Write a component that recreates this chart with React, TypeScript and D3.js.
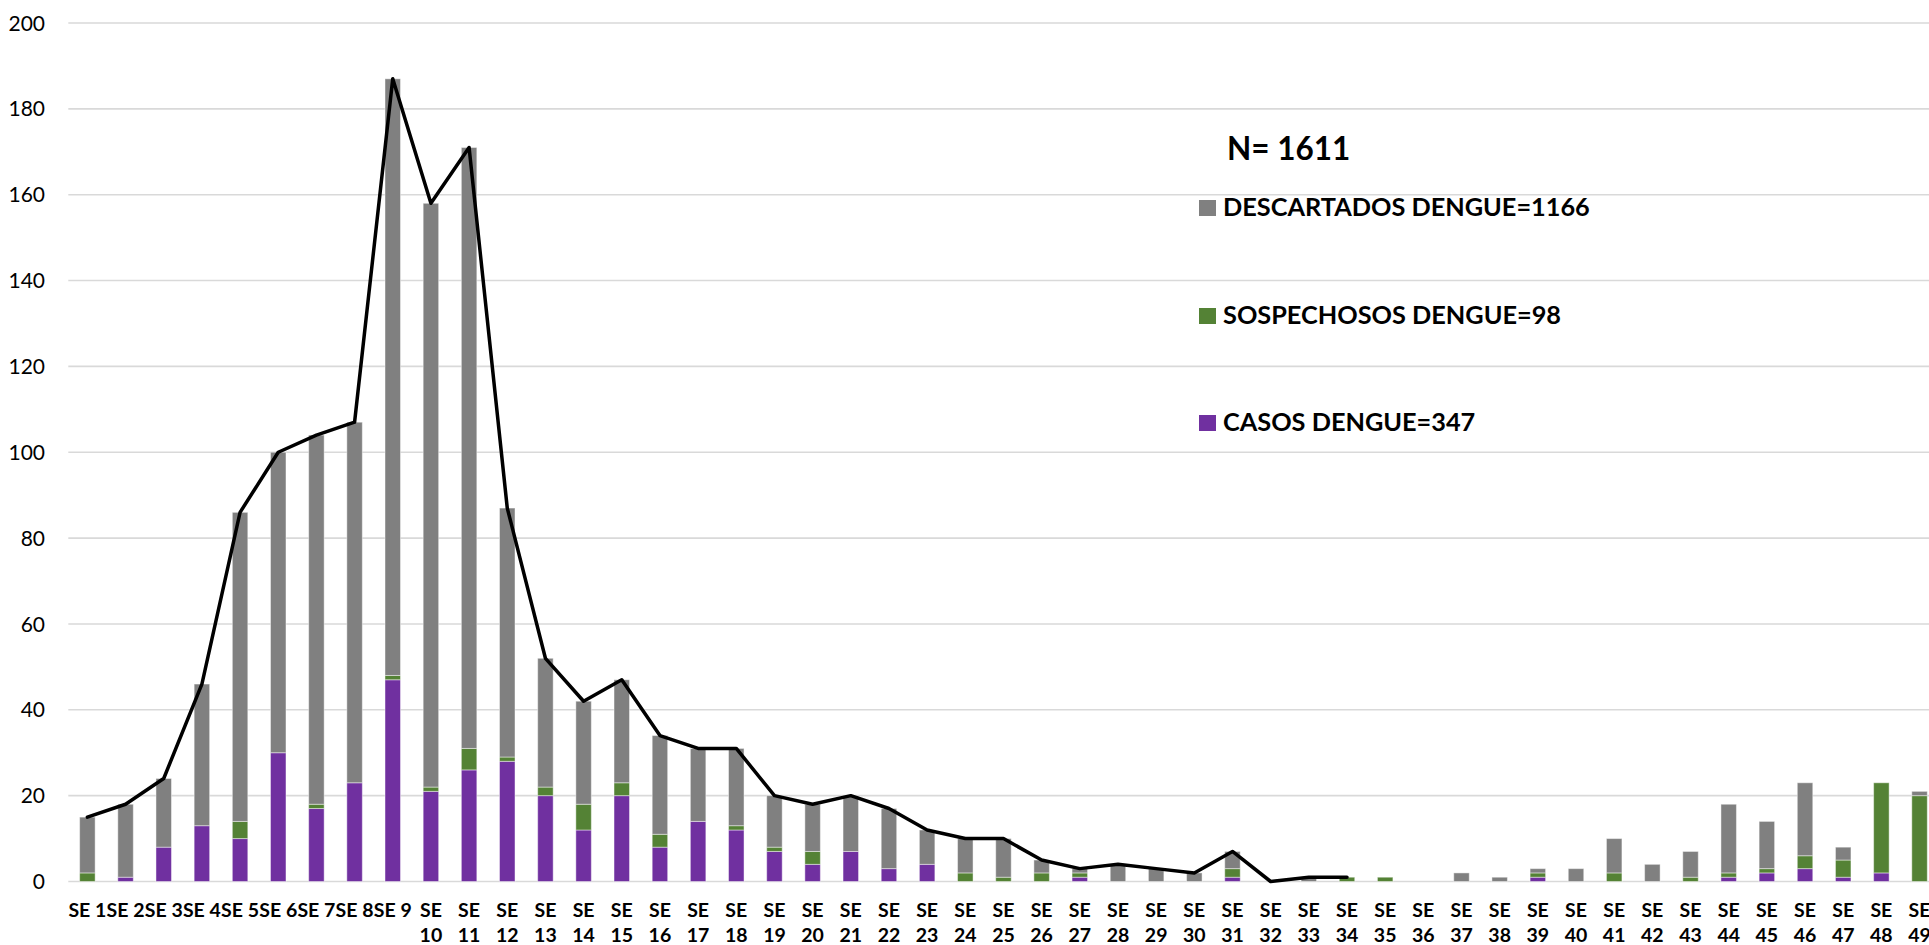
import React, { useEffect, useRef } from 'react';
import * as d3 from 'd3';

// epidemiological weeks SE 1 .. SE 49
const semanas = d3.range(1, 50).map((n) => `SE ${n}`);

const casos = [
  0, 1, 8, 13, 10, 30, 17, 23, 47, 21, 26, 28, 20, 12, 20,
  8, 14, 12, 7, 4, 7, 3, 4, 0, 0, 0, 1, 0, 0, 0, 1,
  0, 0, 0, 0, 0, 0, 0, 1, 0, 0, 0, 0, 1, 2, 3, 1, 2, 0,
];
const sospechosos = [
  2, 0, 0, 0, 4, 0, 1, 0, 1, 1, 5, 1, 2, 6, 3,
  3, 0, 1, 1, 3, 0, 0, 0, 2, 1, 2, 1, 0, 0, 0, 2,
  0, 0, 1, 1, 0, 0, 0, 1, 0, 2, 0, 1, 1, 1, 3, 4, 21, 20,
];
const descartados = [
  13, 17, 16, 33, 72, 70, 86, 84, 139, 136, 140, 58, 30, 24, 24,
  23, 17, 18, 12, 11, 13, 14, 8, 8, 9, 3, 1, 4, 3, 2, 4,
  0, 1, 0, 0, 0, 2, 1, 1, 3, 8, 4, 6, 16, 11, 17, 3, 0, 1,
];
// the total line is only drawn up to SE 34
const lineaHasta = 34;

const yTicks = [0, 20, 40, 60, 80, 100, 120, 140, 160, 180, 200];

const series = [
  { key: 'casos', label: 'CASOS DENGUE=347', color: '#7030a0' },
  { key: 'sospechosos', label: 'SOSPECHOSOS DENGUE=98', color: '#548235' },
  { key: 'descartados', label: 'DESCARTADOS DENGUE=1166', color: '#808080' },
];

const W = 1929;
const H = 945;
const FONT = 'Lato, "Open Sans", sans-serif';

const App: React.FC = () => {
  const svgRef = useRef<SVGSVGElement>(null);

  useEffect(() => {
    if (!svgRef.current) return;
    const svg = d3.select(svgRef.current);
    svg.selectAll('*').remove();

    const x0 = 68.3;
    const step = 38.17;
    const x = d3.scaleBand<string>()
      .domain(semanas)
      .range([x0, x0 + step * semanas.length])
      .paddingInner(0.594)
      .paddingOuter(0.297);

    const y = d3.scaleLinear().domain([0, 200]).range([881.5, 23]);

    const rows = semanas.map((s, i) => ({
      semana: s,
      casos: casos[i],
      sospechosos: sospechosos[i],
      descartados: descartados[i],
    }));

    // gridlines
    svg.append('g')
      .selectAll('line')
      .data(yTicks)
      .join('line')
      .attr('x1', x0)
      .attr('x2', x0 + step * semanas.length)
      .attr('y1', (d) => y(d))
      .attr('y2', (d) => y(d))
      .attr('stroke', '#d9d9d9')
      .attr('stroke-width', 1.6);

    // y tick labels
    svg.append('g')
      .selectAll('text')
      .data(yTicks)
      .join('text')
      .attr('x', 45)
      .attr('y', (d) => y(d))
      .attr('dy', '0.36em')
      .attr('text-anchor', 'end')
      .attr('font-family', FONT)
      .attr('font-size', 21)
      .attr('fill', '#000')
      .text((d) => d);

    // stacked bars
    const stack = d3.stack<any>().keys(series.map((s) => s.key));
    const layers = stack(rows);

    svg.append('g')
      .selectAll('g')
      .data(layers)
      .join('g')
      .attr('fill', (d, i) => series[i].color)
      .selectAll('rect')
      .data((d) => d.filter((p) => p[1] - p[0] > 0))
      .join('rect')
      .attr('x', (d: any) => x(d.data.semana)!)
      .attr('width', x.bandwidth())
      .attr('y', (d) => y(d[1]))
      .attr('height', (d) => y(d[0]) - y(d[1]))
      .attr('stroke', '#ffffff')
      .attr('stroke-opacity', 0.45)
      .attr('stroke-width', 1);

    // total line
    const totales = rows.slice(0, lineaHasta).map((r) => ({
      semana: r.semana,
      total: r.casos + r.sospechosos + r.descartados,
    }));
    const line = d3.line<{ semana: string; total: number }>()
      .x((d) => x(d.semana)! + x.bandwidth() / 2)
      .y((d) => y(d.total));

    svg.append('path')
      .datum(totales)
      .attr('d', line)
      .attr('fill', 'none')
      .attr('stroke', '#000')
      .attr('stroke-width', 3.5)
      .attr('stroke-linejoin', 'round')
      .attr('stroke-linecap', 'round');

    // x labels, wrapped in two lines when they don't fit
    const xl = svg.append('g')
      .selectAll('text')
      .data(semanas)
      .join('text')
      .attr('text-anchor', 'middle')
      .attr('font-family', FONT)
      .attr('font-weight', 'bold')
      .attr('font-size', 19.5)
      .attr('fill', '#000');

    xl.each(function (d) {
      const t = d3.select(this);
      const cx = x(d)! + x.bandwidth() / 2;
      const parts = d.split(' ');
      const num = +parts[1];
      if (num < 10) {
        t.append('tspan').attr('x', cx).attr('y', 917).text(d);
      } else {
        t.append('tspan').attr('x', cx).attr('y', 917).text(parts[0]);
        t.append('tspan').attr('x', cx).attr('y', 942).text(parts[1]);
      }
    });

    // legend block
    svg.append('text')
      .attr('x', 1227)
      .attr('y', 160)
      .attr('font-family', FONT)
      .attr('font-weight', 'bold')
      .attr('font-size', 31.5)
      .attr('fill', '#000')
      .text('N= 1611');

    const legendY = [216, 324, 431];
    const leg = svg.append('g')
      .selectAll('g')
      .data(series.slice().reverse())
      .join('g')
      .attr('transform', (d, i) => `translate(1199, ${legendY[i]})`);

    leg.append('rect')
      .attr('x', 0)
      .attr('y', -16)
      .attr('width', 17)
      .attr('height', 16)
      .attr('fill', (d) => d.color);

    leg.append('text')
      .attr('x', 24)
      .attr('y', 0)
      .attr('font-family', FONT)
      .attr('font-weight', 'bold')
      .attr('font-size', 25.3)
      .attr('fill', '#000')
      .text((d) => d.label);
  }, []);

  return (
    <div style={{ position: 'absolute', left: 0, top: 0, width: W, height: H, overflow: 'hidden', background: '#fff' }}>
      <svg ref={svgRef} width={W} height={H} viewBox={`0 0 ${W} ${H}`} style={{ display: 'block' }} />
    </div>
  );
};

export default App;
